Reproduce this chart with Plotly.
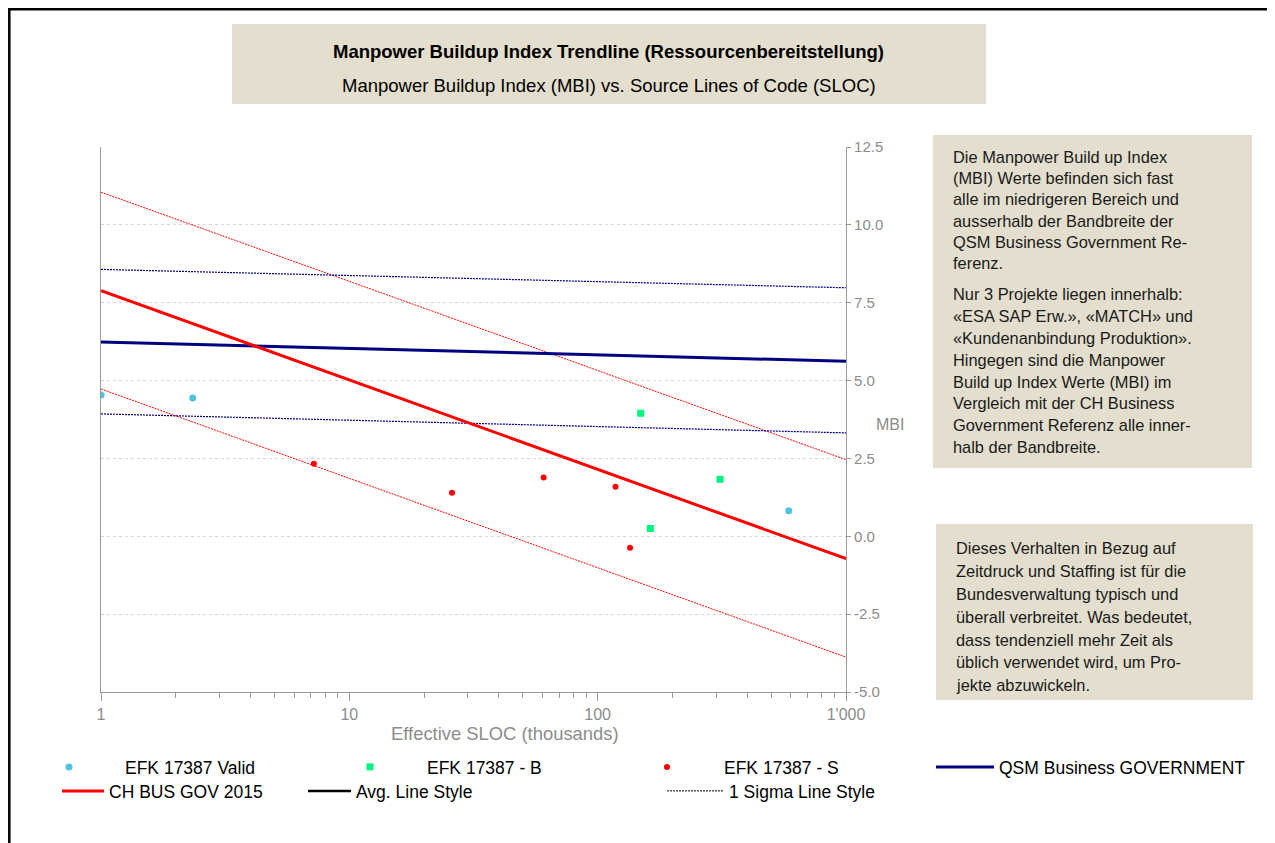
import plotly.graph_objects as go

# ---------------- data ----------------
valid_x = [1.0, 2.34, 588]
valid_y = [4.54, 4.44, 0.82]
b_x = [149, 311, 163]
b_y = [3.95, 1.83, 0.25]
s_x = [7.2, 25.9, 60.6, 118, 135]
s_y = [2.33, 1.40, 1.89, 1.59, -0.37]

trend_x = [1, 1000]
ch_avg = [7.89, -0.72]
ch_hi = [11.05, 2.46]
ch_lo = [4.73, -3.88]
qsm_avg = [6.24, 5.62]
qsm_hi = [8.57, 7.98]
qsm_lo = [3.93, 3.32]

y_ticks = [-5.0, -2.5, 0.0, 2.5, 5.0, 7.5, 10.0, 12.5]
y_ticktext = ["-5.0", "-2.5", "0.0", "2.5", "5.0", "7.5", "10.0", "12.5"]
x_ticks = [1, 10, 100, 1000]
x_ticktext = ["1", "10", "100", "1'000"]

title1 = "Manpower Buildup Index Trendline (Ressourcenbereitstellung)"
title2 = "Manpower Buildup Index (MBI) vs. Source Lines of Code (SLOC)"
x_title = "Effective SLOC (thousands)"
y_title = "MBI"

box1_lines = [
    "Die Manpower Build up Index",
    "(MBI) Werte befinden sich fast",
    "alle im niedrigeren Bereich und",
    "ausserhalb der Bandbreite der",
    "QSM Business Government Re-",
    "ferenz.",
]
box1b_lines = [
    "Nur 3 Projekte liegen innerhalb:",
    "«ESA SAP Erw.», «MATCH» und",
    "«Kundenanbindung Produktion».",
    "Hingegen sind die Manpower",
    "Build up Index Werte (MBI) im",
    "Vergleich mit der CH Business",
    "Government Referenz alle inner-",
    "halb der Bandbreite.",
]
box2_lines = [
    "Dieses Verhalten in Bezug auf",
    "Zeitdruck und Staffing ist für die",
    "Bundesverwaltung typisch und",
    "überall verbreitet. Was bedeutet,",
    "dass tendenziell mehr Zeit als",
    "üblich verwendet wird, um Pro-",
    "jekte abzuwickeln.",
]

# ---------------- layout helpers ----------------
OFF = 8                      # page body margin
W, H = 1275 - OFF, 843 - OFF
L, R, T, B = 101, 846, 147, 692   # plot area in target (window) pixels
PW, PH = R - L, B - T


def px(x):
    return (x - L) / PW


def py(y):
    return (B - y) / PH


FONT = "Liberation Sans, Arial, sans-serif"
GREY = "#8c8c8c"
AXC = "#9a9a9a"
BEIGE = "#E3DECD"

fig = go.Figure()

dotted = "2px,1px"
fig.add_trace(go.Scatter(x=trend_x, y=ch_hi, mode="lines", line=dict(color="#FF0000", width=1, dash=dotted),
                         showlegend=False, hoverinfo="skip"))
fig.add_trace(go.Scatter(x=trend_x, y=ch_lo, mode="lines", line=dict(color="#FF0000", width=1, dash=dotted),
                         showlegend=False, hoverinfo="skip"))
fig.add_trace(go.Scatter(x=trend_x, y=qsm_hi, mode="lines", line=dict(color="#000080", width=1.2, dash=dotted),
                         showlegend=False, hoverinfo="skip"))
fig.add_trace(go.Scatter(x=trend_x, y=qsm_lo, mode="lines", line=dict(color="#000080", width=1.2, dash=dotted),
                         showlegend=False, hoverinfo="skip"))
fig.add_trace(go.Scatter(x=trend_x, y=qsm_avg, mode="lines", line=dict(color="#000080", width=3),
                         name="QSM Business GOVERNMENT", legend="legend4"))
fig.add_trace(go.Scatter(x=trend_x, y=ch_avg, mode="lines", line=dict(color="#FF0000", width=3),
                         name="CH BUS GOV 2015", legend="legend5"))

fig.add_trace(go.Scatter(x=valid_x, y=valid_y, mode="markers", name="EFK 17387 Valid",
                         marker=dict(color="#4FC3DF", size=7, symbol="circle"), legend="legend"))
fig.add_trace(go.Scatter(x=b_x, y=b_y, mode="markers", name="EFK 17387 - B",
                         marker=dict(color="#00F57F", size=7, symbol="square"), legend="legend2"))
fig.add_trace(go.Scatter(x=s_x, y=s_y, mode="markers", name="EFK 17387 - S",
                         marker=dict(color="#FF0000", size=6, symbol="circle"), legend="legend3"))

fig.add_trace(go.Scatter(x=[None], y=[None], mode="lines", name="Avg. Line Style",
                         line=dict(color="black", width=2.5), legend="legend6"))
fig.add_trace(go.Scatter(x=[None], y=[None], mode="lines", name="1 Sigma Line Style",
                         line=dict(color="black", width=1, dash=dotted), legend="legend7"))


def leg(left, yc, itemwidth):
    return dict(x=px(left), y=py(yc), xanchor="left", yanchor="middle", bgcolor="rgba(0,0,0,0)",
                borderwidth=0, itemwidth=itemwidth, font=dict(family=FONT, size=17.5, color="black"),
                orientation="v")


shapes = [
    dict(type="rect", xref="paper", yref="paper", x0=px(232), x1=px(986), y0=py(104), y1=py(24),
         fillcolor=BEIGE, line=dict(width=0), layer="below"),
    dict(type="rect", xref="paper", yref="paper", x0=px(933), x1=px(1252), y0=py(468), y1=py(135),
         fillcolor=BEIGE, line=dict(width=0), layer="below"),
    dict(type="rect", xref="paper", yref="paper", x0=px(936), x1=px(1253), y0=py(700), y1=py(524),
         fillcolor=BEIGE, line=dict(width=0), layer="below"),
    dict(type="rect", xref="paper", yref="paper", x0=px(9.3), x1=px(1270.5), y0=py(900), y1=py(9.3),
         fillcolor="rgba(0,0,0,0)", line=dict(width=2.5, color="black")),
]

annotations = [
    dict(text="<b>" + title1 + "</b>", x=px(608), y=py(52), font=dict(family=FONT, size=18.5, color="black")),
    dict(text=title2, x=px(609), y=py(85), font=dict(family=FONT, size=18.5, color="black")),
    dict(text=x_title, x=px(505), y=py(733), font=dict(family=FONT, size=18.4, color=GREY)),
    dict(text=y_title, x=px(874), y=py(424), xanchor="left", font=dict(family=FONT, size=16, color=GREY)),
]
for a in annotations:
    a.setdefault("xanchor", "center")
    a.update(xref="paper", yref="paper", yanchor="middle", showarrow=False)


def add_lines(lines, x, y0, dy):
    for i, t in enumerate(lines):
        annotations.append(dict(text=t, x=px(x), y=py(y0 + i * dy), xref="paper", yref="paper",
                                xanchor="left", yanchor="middle", showarrow=False,
                                font=dict(family=FONT, size=16.4, color="#1a1a1a")))


add_lines(box1_lines, 951, 156.7, 21.3)
add_lines(box1b_lines, 951, 294.3, 21.8)
add_lines(box2_lines, 954, 548.3, 22.8)

minor_vals = [m * 10 ** d for d in range(3) for m in range(2, 10)]

fig.update_layout(
    width=W, height=H,
    margin=dict(l=L - OFF, r=(W + OFF) - R, t=T - OFF, b=(H + OFF) - B, pad=0, autoexpand=False),
    paper_bgcolor="white", plot_bgcolor="white",
    font=dict(family=FONT, color=GREY),
    xaxis=dict(type="log", range=[0, 3], tickvals=x_ticks, ticktext=x_ticktext,
               showgrid=False, zeroline=False, showline=True, linecolor=AXC, linewidth=1.2,
               ticks="outside", ticklen=8, tickcolor=AXC, tickwidth=1,
               tickfont=dict(family=FONT, size=16, color=GREY),
               minor=dict(tickvals=minor_vals, ticks="outside", ticklen=5, tickcolor=AXC, showgrid=False)),
    yaxis=dict(range=[-5, 12.5], side="right", tickvals=y_ticks, ticktext=y_ticktext,
               showgrid=True, gridcolor="#d6d6d6", griddash="dot", gridwidth=1,
               zeroline=False, showline=True, mirror=True, linecolor=AXC, linewidth=1.2,
               ticks="outside", ticklen=4, tickcolor=AXC,
               tickfont=dict(family=FONT, size=15, color=GREY)),
    shapes=shapes,
    annotations=annotations,
    legend=leg(13, 767, 102),
    legend2=leg(313, 767, 104),
    legend3=leg(610, 767, 104),
    legend4=leg(931, 767, 58),
    legend5=leg(57, 791, 42),
    legend6=leg(303, 791, 43),
    legend7=leg(662, 791, 57),
)

fig.write_html("out.html")
